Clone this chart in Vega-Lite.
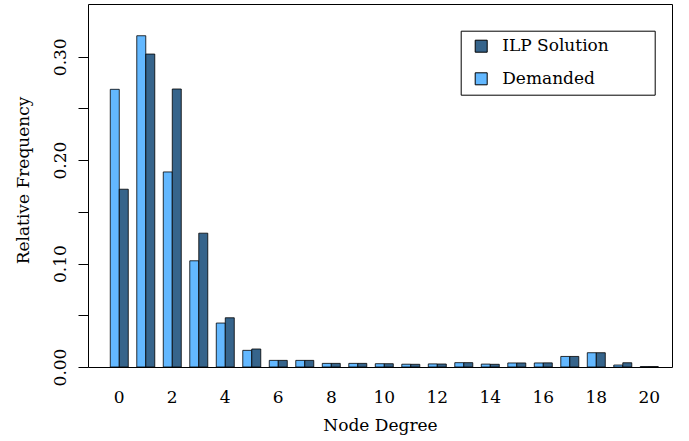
{
  "$schema": "https://vega.github.io/schema/vega-lite/v6.json",
  "width": 584,
  "height": 363,
  "autosize": {"type": "none"},
  "padding": {"left": 88, "top": 4, "right": 17, "bottom": 74},
  "background": "white",
  "config": {
    "view": {"stroke": "#000", "strokeWidth": 1},
    "font": "DejaVu Serif",
    "axis": {
      "labelFont": "DejaVu Serif", "titleFont": "DejaVu Serif",
      "labelFontSize": 17, "titleFontSize": 17, "titleFontWeight": "normal",
      "labelColor": "#000", "titleColor": "#000", "tickColor": "#000",
      "grid": false, "domain": false
    }
  },
  "data": {"values": [
    {"degree": 0, "series": "Demanded", "freq": 0.2685}, {"degree": 0, "series": "ILP Solution", "freq": 0.1719},
    {"degree": 1, "series": "Demanded", "freq": 0.3203}, {"degree": 1, "series": "ILP Solution", "freq": 0.3026},
    {"degree": 2, "series": "Demanded", "freq": 0.1886}, {"degree": 2, "series": "ILP Solution", "freq": 0.2688},
    {"degree": 3, "series": "Demanded", "freq": 0.1027}, {"degree": 3, "series": "ILP Solution", "freq": 0.1294},
    {"degree": 4, "series": "Demanded", "freq": 0.0425}, {"degree": 4, "series": "ILP Solution", "freq": 0.0476},
    {"degree": 5, "series": "Demanded", "freq": 0.0161}, {"degree": 5, "series": "ILP Solution", "freq": 0.0174},
    {"degree": 6, "series": "Demanded", "freq": 0.0064}, {"degree": 6, "series": "ILP Solution", "freq": 0.0064},
    {"degree": 7, "series": "Demanded", "freq": 0.0064}, {"degree": 7, "series": "ILP Solution", "freq": 0.0064},
    {"degree": 8, "series": "Demanded", "freq": 0.0035}, {"degree": 8, "series": "ILP Solution", "freq": 0.0035},
    {"degree": 9, "series": "Demanded", "freq": 0.0035}, {"degree": 9, "series": "ILP Solution", "freq": 0.0035},
    {"degree": 10, "series": "Demanded", "freq": 0.0032}, {"degree": 10, "series": "ILP Solution", "freq": 0.0032},
    {"degree": 11, "series": "Demanded", "freq": 0.0027}, {"degree": 11, "series": "ILP Solution", "freq": 0.0026},
    {"degree": 12, "series": "Demanded", "freq": 0.0030}, {"degree": 12, "series": "ILP Solution", "freq": 0.0029},
    {"degree": 13, "series": "Demanded", "freq": 0.0042}, {"degree": 13, "series": "ILP Solution", "freq": 0.0042},
    {"degree": 14, "series": "Demanded", "freq": 0.0028}, {"degree": 14, "series": "ILP Solution", "freq": 0.0026},
    {"degree": 15, "series": "Demanded", "freq": 0.0039}, {"degree": 15, "series": "ILP Solution", "freq": 0.0039},
    {"degree": 16, "series": "Demanded", "freq": 0.0039}, {"degree": 16, "series": "ILP Solution", "freq": 0.0040},
    {"degree": 17, "series": "Demanded", "freq": 0.0102}, {"degree": 17, "series": "ILP Solution", "freq": 0.0102},
    {"degree": 18, "series": "Demanded", "freq": 0.0138}, {"degree": 18, "series": "ILP Solution", "freq": 0.0138},
    {"degree": 19, "series": "Demanded", "freq": 0.0019}, {"degree": 19, "series": "ILP Solution", "freq": 0.0041},
    {"degree": 20, "series": "Demanded", "freq": 0.0004}, {"degree": 20, "series": "ILP Solution", "freq": 0.0004}
  ]},
  "mark": {"type": "bar", "stroke": "#000", "strokeWidth": 0.8},
  "encoding": {
    "x": {
      "field": "degree", "type": "ordinal",
      "scale": {"paddingInner": 0.3208, "paddingOuter": 0.679, "align": 0.619},
      "axis": {
        "title": "Node Degree",
        "values": [0, 2, 4, 6, 8, 10, 12, 14, 16, 18, 20],
        "ticks": false, "tickSize": 0, "labelAngle": 0,
        "labelPadding": 22, "labelBaseline": "top",
        "titleX": 292, "titleY": 63.7, "titleBaseline": "alphabetic", "titleAlign": "center"
      }
    },
    "xOffset": {
      "field": "series", "type": "nominal",
      "sort": ["Demanded", "ILP Solution"],
      "scale": {"paddingInner": 0, "paddingOuter": 0}
    },
    "y": {
      "field": "freq", "type": "quantitative",
      "scale": {"domain": [0, 0.351], "nice": false},
      "axis": {
        "title": "Relative Frequency",
        "values": [0, 0.05, 0.1, 0.15, 0.2, 0.25, 0.3],
        "labelExpr": "round(datum.value*100) % 10 == 0 ? format(datum.value, '.2f') : ''",
        "tickSize": 10, "labelAngle": -90, "labelAlign": "center", "labelBaseline": "bottom",
        "labelPadding": 9,
        "titleAngle": -90, "titleX": -60, "titleY": 176, "titleAlign": "center", "titleBaseline": "alphabetic"
      }
    },
    "color": {
      "field": "series", "type": "nominal",
      "scale": {"domain": ["ILP Solution", "Demanded"], "range": ["#36648B", "#63B8FF"]},
      "legend": {
        "title": " ", "titleOrient": "right", "titlePadding": 39,
        "orient": "none", "legendX": 372.7, "legendY": 26.7, "direction": "vertical",
        "strokeColor": "#000", "fillColor": "#fff", "padding": 7,
        "symbolType": "square", "symbolSize": 144, "symbolStrokeColor": "#000", "symbolStrokeWidth": 1,
        "symbolOpacity": 1, "symbolOffset": 5, "labelOffset": 12.5, "rowPadding": 14.6,
        "labelFont": "DejaVu Serif", "labelFontSize": 17, "labelColor": "#000"
      }
    }
  }
}
